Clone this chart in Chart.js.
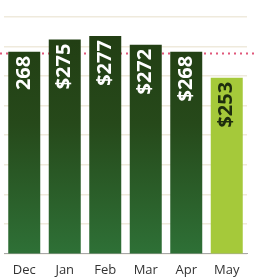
<!DOCTYPE html>
<html>
<head>
<meta charset="utf-8">
<script src="https://cdn.jsdelivr.net/npm/chart.js@4.4.0/dist/chart.umd.min.js"></script>
<style>
  html, body { margin: 0; padding: 0; background: #fff; overflow: hidden; }
  /* a little taller than the window: chart.js doubles the tick padding below the labels */
  #wrap { width: 254px; height: 287px; position: relative; }
</style>
</head>
<body>
<div id="wrap"><canvas id="spendChart"></canvas></div>
<script>
// ── Data ──
const months = ['Dec', 'Jan', 'Feb', 'Mar', 'Apr', 'May'];
const spend = [268, 275, 277, 272, 268, 253];
const valueLabels = ['268', '$275', '$277', '$272', '$268', '$253'];
const targetLine = 267;

const darkText = '#1e2d0e';
const lime = '#a5c93a';

// vertical gradient for the dark bars
function barFill(ctx) {
    const chart = ctx.chart;
    const area = chart.chartArea;
    if (!area) return '#264a18';
    if (ctx.dataIndex === spend.length - 1) return lime;
    const g = chart.ctx.createLinearGradient(0, area.top, 0, area.bottom);
    g.addColorStop(0, '#213c12');
    g.addColorStop(0.45, '#26491a');
    g.addColorStop(1, '#2e7036');
    return g;
}

// dotted target line behind the bars
const targetPlugin = {
    id: 'targetLine',
    beforeDatasetsDraw(chart) {
        const y = chart.scales.y.getPixelForValue(targetLine);
        const c = chart.ctx;
        c.save();
        c.strokeStyle = '#e0577a';
        c.lineWidth = 2;
        c.setLineDash([2, 4]);
        c.beginPath();
        c.moveTo(0, y);
        c.lineTo(chart.width, y);
        c.stroke();
        c.restore();
    }
};

// rotated value labels inside the top of each bar
const barLabels = {
    id: 'barLabels',
    afterDatasetsDraw(chart) {
        const c = chart.ctx;
        const meta = chart.getDatasetMeta(0);
        c.save();
        c.font = "bold 20px 'Open Sans', sans-serif";
        c.textBaseline = 'middle';
        c.textAlign = 'right';
        meta.data.forEach((bar, i) => {
            c.save();
            c.translate(bar.x, bar.y + 4);
            c.rotate(-Math.PI / 2);
            c.fillStyle = i === spend.length - 1 ? darkText : '#ffffff';
            c.fillText(valueLabels[i], 0, 0);
            c.restore();
        });
        c.restore();
    }
};

new Chart(document.getElementById('spendChart'), {
    type: 'bar',
    data: {
        labels: months,
        datasets: [{
            data: spend,
            backgroundColor: barFill,
            borderWidth: 0,
            barPercentage: 0.79,
            categoryPercentage: 1
        }]
    },
    options: {
        responsive: true,
        maintainAspectRatio: false,
        animation: false,
        layout: { padding: { top: 17, left: 4, right: 7, bottom: 0 } },
        plugins: { legend: { display: false }, tooltip: { enabled: false } },
        scales: {
            y: {
                min: 152,
                max: 288,
                ticks: { display: false, stepSize: 17 },
                grid: { color: '#efeadc', lineWidth: 1.5, drawTicks: false },
                border: { display: false }
            },
            x: {
                grid: { display: false, drawTicks: false },
                border: { display: true, color: '#a8a8a8' },
                ticks: {
                    padding: 9,
                    color: '#333',
                    font: { family: "'Open Sans', sans-serif", size: 13 }
                }
            }
        }
    },
    plugins: [targetPlugin, barLabels]
});
</script>
</body>
</html>
